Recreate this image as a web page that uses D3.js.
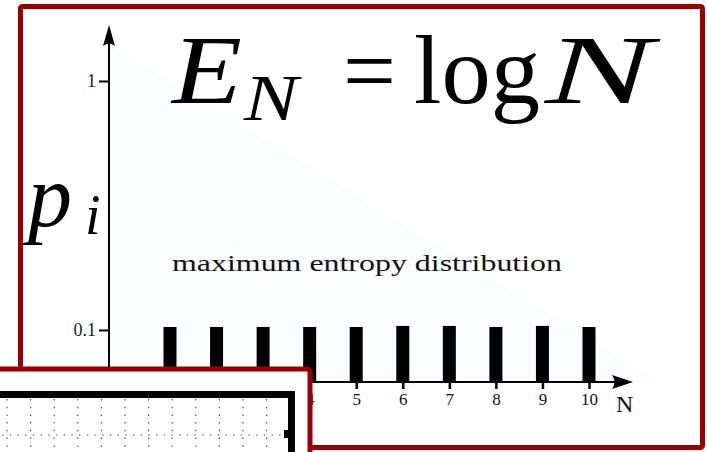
<!DOCTYPE html>
<html><head><meta charset="utf-8">
<script src="https://cdn.jsdelivr.net/npm/d3@7"></script>
<style>html,body{margin:0;padding:0;background:#fff;overflow:hidden}</style>
</head><body>
<svg id="c" width="707" height="452"></svg>
<script>
// ---- data ----
const categories = [1,2,3,4,5,6,7,8,9,10];
const probabilities = [0.1028,0.1028,0.1028,0.1028,0.1028,0.1038,0.1038,0.1028,0.1038,0.1028];
const yTickValues = [1, 0.1];
const yTickLabels = ["1", "0.1"];
const xTickLabels = ["1","2","3","4","5","6","7","8","9","10"];

const svg = d3.select("#c");
const red = "#9b0000";
const serif = "'Liberation Serif','DejaVu Serif',serif";

// outer frame
svg.append("rect").attr("x",20.5).attr("y",6.5).attr("width",682).attr("height",441)
  .attr("fill","#fff").attr("stroke",red).attr("stroke-width",5).attr("rx",2);

const x = d3.scaleLinear().domain([1,10]).range([170,589]);
const y = d3.scaleLog().domain([0.0618,1]).range([382,81]);
const x0 = 109, y0 = y.range()[0];

// faint shading
svg.append("path").attr("d",`M${x0},44L660,${y0}L${x0},${y0}Z`).attr("fill","#fafcfe");

// bars
svg.append("g").selectAll("rect").data(categories).join("rect")
  .attr("x",d=>x(d)-6.5).attr("width",13)
  .attr("y",(d,i)=>y(probabilities[i])).attr("height",(d,i)=>y0-y(probabilities[i]))
  .attr("fill","#000");

// y axis
const ya = d3.axisLeft(y).tickValues(yTickValues).tickFormat((d,i)=>yTickLabels[i]).tickSize(10).tickPadding(3);
const gy = svg.append("g").attr("transform",`translate(${x0},0)`).call(ya);
gy.select(".domain").remove();
gy.selectAll("line").attr("stroke-width",2);
gy.selectAll("text").attr("font-family",serif).style("font-size","18px").attr("fill","#1a1a2a");

// x axis
const xa = d3.axisBottom(x).tickValues(categories).tickFormat((d,i)=>xTickLabels[i]).tickSize(7).tickPadding(4);
const gx = svg.append("g").attr("transform",`translate(0,${y0})`).call(xa);
gx.select(".domain").remove();
gx.selectAll("line").attr("stroke-width",2.5);
gx.selectAll("text").attr("font-family",serif).style("font-size","17px").attr("fill","#111");

// axis lines with arrows
svg.append("line").attr("x1",x0).attr("x2",x0).attr("y1",y0+1).attr("y2",38).attr("stroke","#000").attr("stroke-width",2);
svg.append("line").attr("x1",x0-1).attr("x2",620).attr("y1",y0).attr("y2",y0).attr("stroke","#000").attr("stroke-width",2);
svg.append("path").attr("d",`M${x0},25L${x0+6},46Q${x0},41 ${x0-6},46Z`).attr("fill","#000");
svg.append("path").attr("d",`M633,${y0}L612,${y0-7}Q617,${y0} 612,${y0+7}Z`).attr("fill","#000");

svg.append("text").attr("x",616).attr("y",412).attr("font-family",serif).attr("font-size",24).attr("fill","#111").text("N");

// caption
svg.append("text").attr("x",172).attr("y",271).attr("font-family","'Palatino','Liberation Serif',serif")
  .attr("font-size",23).attr("textLength",390).attr("lengthAdjust","spacingAndGlyphs").attr("fill","#111")
  .text("maximum entropy distribution");

// y label p_i
svg.append("text").attr("x",28).attr("y",226).attr("font-family",serif).attr("font-style","italic")
  .attr("font-size",88).attr("fill","#000").text("p");
svg.append("text").attr("x",85).attr("y",234).attr("font-family",serif).attr("font-style","italic")
  .attr("font-size",56).attr("fill","#000").text("i");

// title E_N = log N
const t = svg.append("g").attr("font-family",serif).attr("fill","#000");
const piece = (txt,px,py,fs,w,it)=>t.append("text").attr("x",px).attr("y",py).attr("font-size",fs)
  .attr("font-style",it?"italic":"normal").attr("textLength",w).attr("lengthAdjust","spacingAndGlyphs").text(txt);
piece("E",172,103,98,70,true);
piece("N",244,120,66,54,true);
piece("=",343,103,96,53,false);
piece("log",414,103,98,126,false);
piece("N",545,103,98,108,true);

// overlapping panel at bottom-left
const o = svg.append("g");
o.append("rect").attr("x",-10).attr("y",369).attr("width",320).attr("height",100)
  .attr("fill","#fff").attr("stroke",red).attr("stroke-width",5).attr("rx",3);
const cols = d3.range(12).map(i=>7+i*23.6);
o.selectAll("line.v").data(cols).join("line").attr("class","v")
  .attr("x1",d=>d).attr("x2",d=>d).attr("y1",399).attr("y2",452)
  .attr("stroke","#555").attr("stroke-width",1.2).attr("stroke-dasharray","1.5,6.2");
o.append("line").attr("x1",2).attr("x2",284).attr("y1",435).attr("y2",435)
  .attr("stroke","#555").attr("stroke-width",1.2).attr("stroke-dasharray","1.5,6.2");
o.append("path").attr("d","M0,394.5H291.5V452").attr("fill","none").attr("stroke","#000").attr("stroke-width",7);
o.append("rect").attr("x",284).attr("y",430).attr("width",6).attr("height",8).attr("fill","#000");
</script>
</body></html>
